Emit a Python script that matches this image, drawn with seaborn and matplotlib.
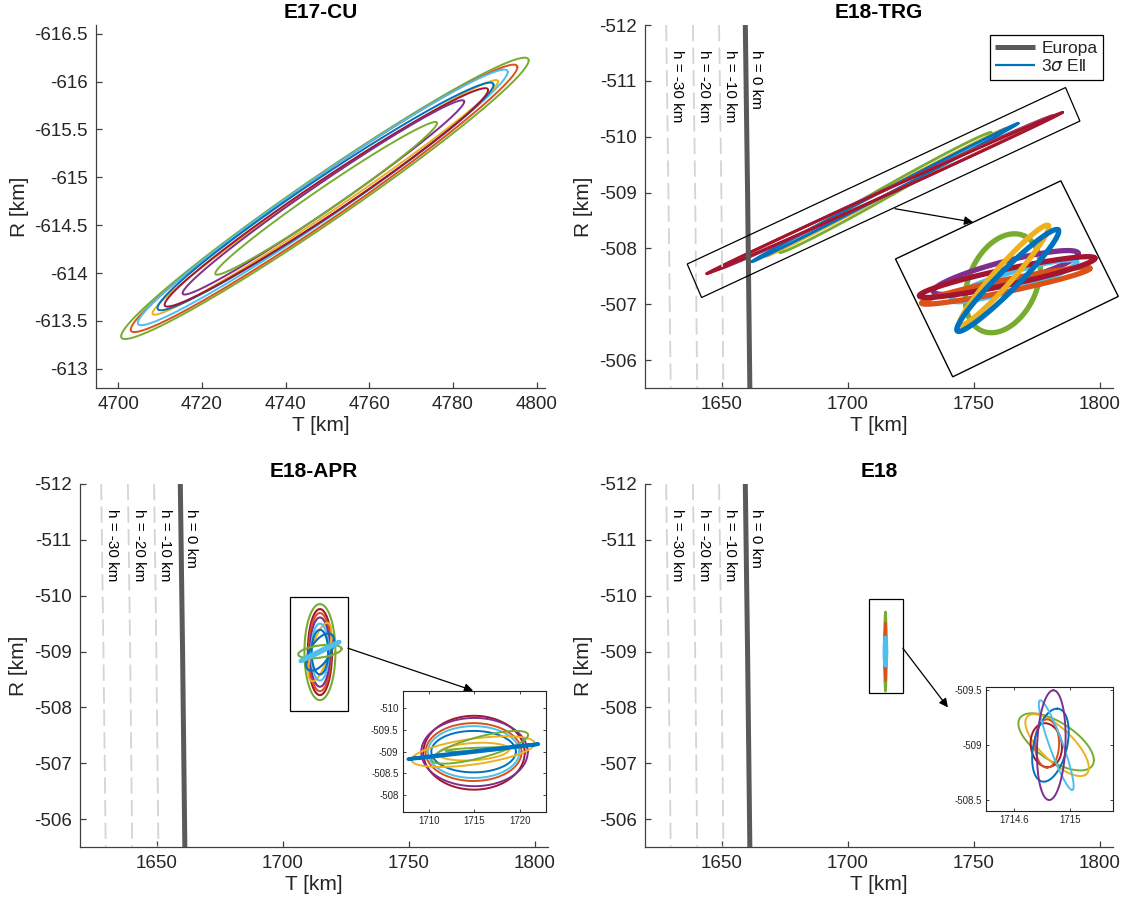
import numpy as np
import pandas as pd
import matplotlib
matplotlib.use("Agg")
import matplotlib.pyplot as plt
import matplotlib.transforms as mtransforms
from matplotlib.patches import Polygon, Rectangle
from matplotlib.lines import Line2D
import seaborn as sns

sns.set_theme(style="ticks")
plt.rcParams['font.family'] = ['Liberation Sans', 'DejaVu Sans']
plt.rcParams['axes.unicode_minus'] = False
plt.rcParams['mathtext.fontset'] = 'dejavusans'

PAL = {'blue': '#0072BD', 'orange': '#D95319', 'yellow': '#EDB120', 'purple': '#7E2F8E',
       'green': '#77AC30', 'lblue': '#4DBEEE', 'dred': '#A2142F'}

# ---------------- data ----------------
TITLES = ['E17-CU', 'E18-TRG', 'E18-APR', 'E18']

CU_XTICKS = [4700, 4720, 4740, 4760, 4780, 4800]
CU_YTICKS = [-616.5, -616, -615.5, -615, -614.5, -614, -613.5, -613]
CU_YLABELS = ['-616.5', '-616', '-615.5', '-615', '-614.5', '-614', '-613.5', '-613']
E18_XTICKS = [1650, 1700, 1750, 1800]
E18_YTICKS = [-512, -511, -510, -509, -508, -507, -506]
E18_YLABELS = ['-512', '-511', '-510', '-509', '-508', '-507', '-506']

# E17-CU ellipses: centre, semi-major vector (T,R), vertical half width
CU_COLOR = ['green', 'orange', 'lblue', 'yellow', 'blue', 'dred', 'purple', 'green']
CU_CT = [4749.4, 4749.2, 4748.9, 4749.5, 4749.55, 4749.75, 4749.05, 4749.7]
CU_CR = [-614.78, -614.78, -614.79, -614.79, -614.80, -614.79, -614.79, -614.78]
CU_AT = [48.7, 46.2, 44.2, 41.3, 40.15, 38.65, 33.65, 26.5]
CU_AR = [-1.44, -1.37, -1.31, -1.21, -1.165, -1.12, -1.0, -0.785]
CU_W = [0.29, 0.27, 0.255, 0.19, 0.235, 0.215, 0.17, 0.14]

# Europa surface and depth lines (T at R = -512, -509, -505.5)
H_LEVELS = [0, -10, -20, -30]
H_R = [-512.0, -509.0, -505.5]
H_T = [[1659.4, 1660.3, 1661.2],
       [1649.0, 1649.9, 1650.7],
       [1638.6, 1639.5, 1640.3],
       [1628.0, 1628.9, 1629.8]]

# E18-TRG ellipses
TRG_COLOR = ['green', 'yellow', 'lblue', 'blue', 'purple', 'orange', 'dred']
TRG_CT = [1715.0, 1715.0, 1715.0, 1714.8, 1715.0, 1714.5, 1714.65]
TRG_CR = [-509.0, -509.0, -509.0, -509.0, -509.0, -508.99, -508.99]
TRG_AT = [42.0, 47.4, 46.0, 52.9, 66.0, 67.5, 70.65]
TRG_AR = [-1.07, -1.14, -1.06, -1.24, -1.37, -1.39, -1.445]
TRG_W = [0.11, 0.06, 0.05, 0.05, 0.06, 0.05, 0.05]
TRG_BOX_T = [1636.35, 1786.47, 1792.18, 1642.06]
TRG_BOX_R = [-507.72, -510.88, -510.28, -507.12]
TRG_ARROW = [(1718.8, -508.71), (1749.8, -508.47)]
TRG_INSET_T = [1719.0, 1784.6, 1807.4, 1741.7]
TRG_INSET_R = [-507.81, -509.21, -507.14, -505.70]
# magnified view (pixels, relative to the inset centre, y up)
TI_COLOR = ['green', 'purple', 'lblue', 'orange', 'dred', 'yellow', 'blue']
TI_DX = [-4.0, -1.1, 7.3, -1.1, 0.3, -2.7, 0.9]
TI_DY = [-5.0, 5.8, -2.5, -7.5, 1.2, 3.0, -2.2]
TI_A = [52.0, 75.0, 65.4, 86.0, 89.8, 66.5, 71.4]
TI_B = [34.0, 11.0, 9.0, 6.0, 8.0, 9.0, 10.0]
TI_ANG = [66.0, 14.8, 17.0, 11.7, 12.1, 48.4, 45.0]

# E18-APR main ellipses: centre, conjugate semi-diameters
AP_COLOR = ['green', 'dred', 'orange', 'purple', 'yellow', 'lblue', 'blue', 'blue', 'green', 'lblue']
AP_CT = [1714.8, 1714.8, 1714.8, 1714.8, 1714.8, 1714.8, 1714.8, 1714.8, 1714.8, 1714.8]
AP_CR = [-508.99, -508.99, -508.99, -508.99, -508.99, -508.99, -508.99, -508.99, -509.0, -509.0]
AP_AT = [6.15, 4.8, 4.4, 4.0, 3.3, 3.5, 5.0, 3.3, 8.6, 7.67]
AP_AR = [0.0, 0.0, 0.0, 0.0, -0.52, 0.0, -0.30, 0.0, -0.05, -0.172]
AP_BT = [0.0, 0.0, 0.0, 0.0, 3.2, 0.0, 2.5, 0.0, 0.0, 0.0]
AP_BR = [0.86, 0.77, 0.70, 0.62, 0.06, 0.51, 0.15, 0.40, 0.11, 0.015]
AP_LW = [1.5, 1.5, 1.5, 1.5, 1.5, 1.5, 1.5, 1.5, 1.5, 3.0]
AP_BOX = [1702.9, -509.97, 1725.9, -507.94]
AP_ARROW = [(1725.9, -509.06), (1775.6, -508.30)]

# E18-APR inset ellipses
AI_COLOR = ['dred', 'purple', 'orange', 'lblue', 'blue', 'yellow', 'yellow', 'green', 'green', 'blue']
AI_CT = [1714.95, 1715.0, 1714.9, 1714.9, 1714.9, 1714.85, 1714.9, 1715.6, 1715.3, 1714.85]
AI_CR = [-508.975, -508.99, -508.99, -508.99, -509.0, -509.0, -509.0, -509.1, -509.05, -509.0]
AI_AT = [5.6, 5.88, 5.3, 5.05, 4.67, 6.8, 3.9, 5.33, 3.5, 7.17]
AI_AR = [0.0, 0.0, 0.0, 0.0, 0.0, -0.19, -0.05, -0.285, -0.03, -0.173]
AI_BR = [0.855, 0.79, 0.67, 0.6, 0.48, 0.3, 0.2, 0.25, 0.04, 0.012]
AI_LW = [1.4, 1.4, 1.4, 1.4, 1.4, 1.4, 1.4, 1.4, 1.4, 2.6]
AI_XTICKS = [1710, 1715, 1720]
AI_YTICKS = [-510, -509.5, -509, -508.5, -508]
AI_YLABELS = ['-510', '-509.5', '-509', '-508.5', '-508']

# E18 main ellipses
EM_COLOR = ['green', 'dred', 'purple', 'yellow', 'orange', 'blue', 'lblue']
EM_AT = [0.5, 0.3, 0.3, 0.3, 0.35, 0.3, 0.45]
EM_BR = [0.715, 0.45, 0.40, 0.35, 0.52, 0.28, 0.26]
EM_LW = [1.5, 1.5, 1.5, 1.5, 1.5, 1.5, 2.5]
EM_CENTER = (1715.0, -509.0)
EM_BOX = [1708.3, -509.94, 1721.8, -508.25]
EM_ARROW = [(1721.9, -509.06), (1739.8, -508.0)]

# E18 inset ellipses
EI_COLOR = ['green', 'yellow', 'dred', 'orange', 'blue', 'lblue', 'purple']
EI_CT = [1714.899, 1714.906, 1714.83, 1714.835, 1714.859, 1714.9, 1714.865]
EI_CR = [-509.03, -509.0, -509.0, -509.015, -509.0, -509.0, -509.0]
EI_AT = [0.266, 0.20, 0.01, 0.0, 0.047, 0.112, 0.015]
EI_AR = [0.167, 0.27, 0.20, 0.22, -0.333, 0.409, -0.5]
EI_BT = [0.0, 0.10, 0.11, 0.085, 0.12, 0.05, 0.1]
EI_BR = [-0.2, -0.08, 0.0, 0.0, 0.0, 0.0, 0.0]
EI_XTICKS = [1714.6, 1715]
EI_XLABELS = ['1714.6', '1715']
EI_YTICKS = [-509.5, -509, -508.5]
EI_YLABELS = ['-509.5', '-509', '-508.5']

# ---------------- figure ----------------
W, H = 1129, 909
fig = plt.figure(figsize=(W / 100, H / 100), dpi=100)


def px_axes(l, t, r, b):
    return fig.add_axes([l / W, 1 - b / H, (r - l) / W, (b - t) / H])


SPINE = '#404040'
TXT = '#262626'
TH = np.linspace(0, 2 * np.pi, 361)


def ell(ax, ct, cr, at, ar, bt, br, color, lw, z=2):
    df = pd.DataFrame({'T': ct + at * np.cos(TH) + bt * np.sin(TH),
                       'R': cr + ar * np.cos(TH) + br * np.sin(TH)})
    sns.lineplot(data=df, x='T', y='R', sort=False, estimator=None,
                 color=color, lw=lw, ax=ax, zorder=z)


def style_main(ax, xlim, ylim, xt, yt, ylab, title):
    ax.set_xlim(*xlim)
    ax.set_ylim(*ylim)
    ax.set_xticks(xt)
    ax.set_xticklabels([str(v) for v in xt])
    ax.set_yticks(yt)
    ax.set_yticklabels(ylab)
    for s in ['top', 'right']:
        ax.spines[s].set_visible(False)
    for s in ['left', 'bottom']:
        ax.spines[s].set_color(SPINE)
        ax.spines[s].set_linewidth(0.9)
    ax.tick_params(direction='in', length=4, width=0.9, color=SPINE,
                   labelsize=13.5, labelcolor=TXT, pad=6)
    ax.set_xlabel('T [km]', fontsize=15, color=TXT, labelpad=2)
    ax.set_ylabel('R [km]', fontsize=15, color=TXT, labelpad=4)
    ax.set_title(title, fontsize=15, fontweight='bold', color='black', pad=5)


def style_inset(ax, xlim, ylim, xt, xl, yt, yl):
    ax.set_xlim(*xlim)
    ax.set_ylim(*ylim)
    ax.set_xticks(xt)
    ax.set_xticklabels(xl)
    ax.set_yticks(yt)
    ax.set_yticklabels(yl)
    ax.set_xlabel('')
    ax.set_ylabel('')
    for s in ax.spines.values():
        s.set_visible(True)
        s.set_color('#222222')
        s.set_linewidth(0.8)
    ax.tick_params(direction='in', length=2.5, width=0.6, labelsize=7,
                   top=True, right=True, color='#222222', labelcolor=TXT, pad=3)


def surface_lines(ax):
    for k, h in enumerate(H_LEVELS):
        df = pd.DataFrame({'T': H_T[k], 'R': H_R})
        if h == 0:
            sns.lineplot(data=df, x='T', y='R', sort=False, estimator=None,
                         color='#5a5a5a', lw=3.6, ax=ax, zorder=3)
        else:
            sns.lineplot(data=df, x='T', y='R', sort=False, estimator=None,
                         color='#d4d4d4', lw=1.3, ax=ax, zorder=3,
                         linestyle=(0, (9, 3.5)))
        ax.text(H_T[k][0] + 4.3, -511.55, f'h = {h} km', rotation=-90,
                ha='center', va='top', fontsize=11, color='black', zorder=5)


def arrow(ax, p0, p1):
    ax.annotate('', xy=p1, xytext=p0, annotation_clip=False,
                arrowprops=dict(arrowstyle='-|>', color='black', lw=0.9,
                                mutation_scale=13, shrinkA=0, shrinkB=0))


XL = (1619.6, 1805.3)
YL = (-505.5, -512.0)

# ---- E17-CU ----
ax1 = px_axes(96, 25, 545, 388)
for i, c in enumerate(CU_COLOR):
    ell(ax1, CU_CT[i], CU_CR[i], CU_AT[i], CU_AR[i], 0.0, CU_W[i], PAL[c], 1.4)
style_main(ax1, (4694.7, 4802.0), (-612.8, -616.59), CU_XTICKS, CU_YTICKS,
           CU_YLABELS, TITLES[0])

# ---- E18-TRG ----
ax2 = px_axes(645, 25, 1113, 388)
for i, c in enumerate(TRG_COLOR):
    ell(ax2, TRG_CT[i], TRG_CR[i], TRG_AT[i], TRG_AR[i], 0.0, TRG_W[i], PAL[c], 2.0)
surface_lines(ax2)
style_main(ax2, XL, YL, E18_XTICKS, E18_YTICKS, E18_YLABELS, TITLES[1])
ax2.add_patch(Polygon(np.column_stack([TRG_BOX_T, TRG_BOX_R]), closed=True,
                      fill=False, ec='black', lw=0.9, zorder=6))
ax2.add_patch(Polygon(np.column_stack([TRG_INSET_T, TRG_INSET_R]), closed=True,
                      fill=False, ec='black', lw=1.0, zorder=6, clip_on=False))
arrow(ax2, TRG_ARROW[0], TRG_ARROW[1])
corners = ax2.transData.transform(np.column_stack([TRG_INSET_T, TRG_INSET_R]))
cx, cy = corners.mean(axis=0)
for i, c in enumerate(TI_COLOR):
    a, b, ang = TI_A[i], TI_B[i], np.deg2rad(TI_ANG[i])
    u = a * np.cos(TH)
    v = b * np.sin(TH)
    x = cx + TI_DX[i] + u * np.cos(ang) - v * np.sin(ang)
    y = cy + TI_DY[i] + u * np.sin(ang) + v * np.cos(ang)
    ax2.plot(x, y, color=PAL[c], lw=3.8, transform=mtransforms.IdentityTransform(),
             clip_on=False, zorder=7, solid_capstyle='round')
leg = ax2.legend(handles=[Line2D([], [], color='#5a5a5a', lw=3.6, solid_capstyle='butt'),
                          Line2D([], [], color=PAL['blue'], lw=1.6, solid_capstyle='butt')],
                 labels=['Europa', r'3$\sigma$ Ell'], loc='upper right',
                 fontsize=12.5, frameon=True, fancybox=False, framealpha=1,
                 edgecolor='black', borderpad=0.3, handlelength=2.3,
                 handletextpad=0.35, labelspacing=0.15, borderaxespad=0.6)
leg.get_frame().set_linewidth(0.9)

# ---- E18-APR ----
ax3 = px_axes(80, 484, 548, 847)
for i, c in enumerate(AP_COLOR):
    ell(ax3, AP_CT[i], AP_CR[i], AP_AT[i], AP_AR[i], AP_BT[i], AP_BR[i], PAL[c], AP_LW[i])
surface_lines(ax3)
style_main(ax3, XL, YL, E18_XTICKS, E18_YTICKS, E18_YLABELS, TITLES[2])
ax3.add_patch(Rectangle((AP_BOX[0], AP_BOX[1]), AP_BOX[2] - AP_BOX[0],
                        AP_BOX[3] - AP_BOX[1], fill=False, ec='black', lw=0.9, zorder=6))
arrow(ax3, AP_ARROW[0], AP_ARROW[1])

ins3 = px_axes(402.7, 690.7, 546, 811.7)
for i, c in enumerate(AI_COLOR):
    ell(ins3, AI_CT[i], AI_CR[i], AI_AT[i], AI_AR[i], 0.0, AI_BR[i], PAL[c], AI_LW[i])
style_inset(ins3, (1707.07, 1722.9), (-507.61, -510.41), AI_XTICKS,
            [str(v) for v in AI_XTICKS], AI_YTICKS, AI_YLABELS)

# ---- E18 ----
ax4 = px_axes(645, 484, 1113, 847)
for i, c in enumerate(EM_COLOR):
    ell(ax4, EM_CENTER[0], EM_CENTER[1], EM_AT[i], 0.0, 0.0, EM_BR[i], PAL[c], EM_LW[i])
surface_lines(ax4)
style_main(ax4, XL, YL, E18_XTICKS, E18_YTICKS, E18_YLABELS, TITLES[3])
ax4.add_patch(Rectangle((EM_BOX[0], EM_BOX[1]), EM_BOX[2] - EM_BOX[0],
                        EM_BOX[3] - EM_BOX[1], fill=False, ec='black', lw=0.9, zorder=6))
arrow(ax4, EM_ARROW[0], EM_ARROW[1])

ins4 = px_axes(986, 687, 1113, 811)
for i, c in enumerate(EI_COLOR):
    ell(ins4, EI_CT[i], EI_CR[i], EI_AT[i], EI_AR[i], EI_BT[i], EI_BR[i], PAL[c], 1.4)
style_inset(ins4, (1714.405, 1715.3), (-508.4, -509.53), EI_XTICKS, EI_XLABELS,
            EI_YTICKS, EI_YLABELS)

fig.savefig('out.png', dpi=100, facecolor='white')
